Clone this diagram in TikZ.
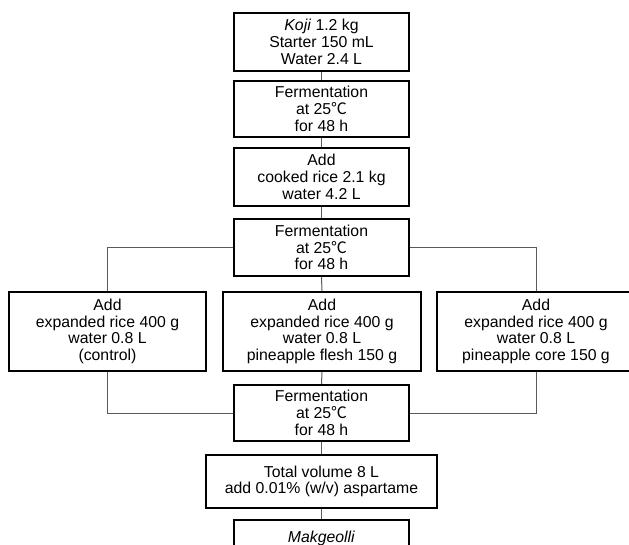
\documentclass[tikz,border=0pt]{standalone}
\usepackage{fontspec}
\setmainfont{Liberation Sans}
\newfontfamily\cjk{Noto Sans CJK SC}
\newcommand{\degC}{{\cjk ℃}}
\begin{document}
\begin{tikzpicture}[x=1pt,y=-1pt,
  box/.style={draw=black, fill=white, line width=2pt, align=center, inner sep=0pt,
    font=\fontsize{15.8}{16.7}\selectfont},
  link/.style={draw=black!65, line width=1pt}]
\useasboundingbox (0,0) rectangle (629,545);
\node[box, minimum width=175, minimum height=58] (b1) at (321.5,42) {\textit{Koji} 1.2 kg\\Starter 150 mL\\Water 2.4 L};
\node[box, minimum width=175, minimum height=56] (b2) at (321.5,109) {Fermentation\\at 25\degC\\for 48 h};
\node[box, minimum width=175, minimum height=58] (b3) at (321.5,177) {Add\\cooked rice 2.1 kg\\water 4.2 L};
\node[box, minimum width=175, minimum height=57] (b4) at (321.5,247.5) {Fermentation\\at 25\degC\\for 48 h};
\node[box, minimum width=197, minimum height=79] (sl) at (107.5,331.5) {Add\\expanded rice 400 g\\water 0.8 L\\(control)};
\node[box, minimum width=198, minimum height=79] (sm) at (322,331.5) {Add\\expanded rice 400 g\\water 0.8 L\\pineapple flesh 150 g};
\node[box, minimum width=198, minimum height=79] (sr) at (536,331.5) {Add\\expanded rice 400 g\\water 0.8 L\\pineapple core 150 g};
\node[box, minimum width=175, minimum height=56] (f2) at (321.5,413) {Fermentation\\at 25\degC\\for 48 h};
\node[box, minimum width=231, minimum height=53] (tv) at (321.5,481.5) {Total volume 8 L\\add 0.01\% (w/v) aspartame};
\node[box, minimum width=175, minimum height=37] (mk) at (321.5,538.5) {\textit{Makgeolli}};
\path[link] (b1.south) -- (b2.north);
\path[link] (b2.south) -- (b3.north);
\path[link] (b3.south) -- (b4.north);
\path[link] (b4.west) -| (sl.north);
\path[link] (b4.east) -| (sr.north);
\path[link] (b4.south) -- (sm.north);
\path[link] (sl.south) |- (f2.west);
\path[link] (sr.south) |- (f2.east);
\path[link] (sm.south) -- (f2.north);
\path[link] (f2.south) -- (tv.north);
\path[link] (tv.south) -- (mk.north);
\end{tikzpicture}
\end{document}
